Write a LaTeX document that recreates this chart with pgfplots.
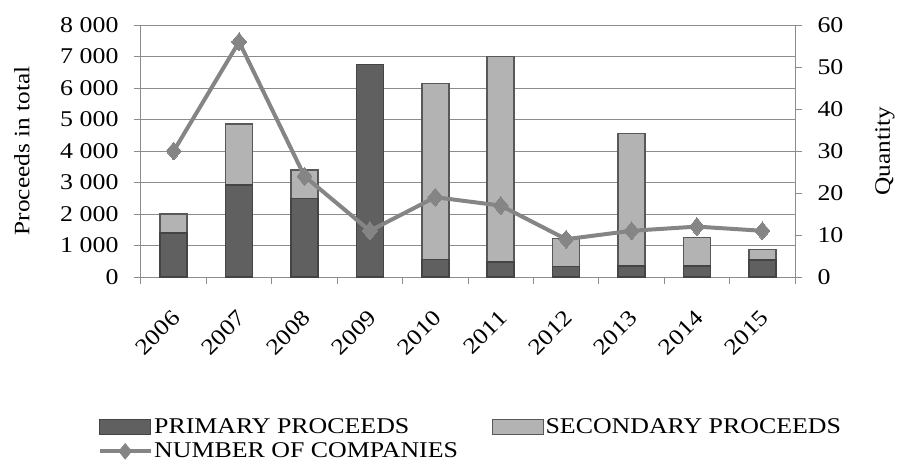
\documentclass[border=0pt]{standalone}
\usepackage{fontspec}
\setmainfont{Liberation Serif}[FakeStretch=1.15]
\usepackage{pgfplots}
\usepackage{pgfplotstable}
\pgfplotsset{compat=1.18}

\definecolor{primaryfill}{HTML}{606060}
\definecolor{primaryedge}{HTML}{444444}
\definecolor{secondfill}{HTML}{B3B3B3}
\definecolor{secondedge}{HTML}{585858}
\definecolor{linegray}{HTML}{858585}
\definecolor{gridgray}{HTML}{8C8C8C}

% proceeds (left axis) and number of companies (right axis)
\pgfplotstableread{
x year primary secondary companies
0 2006 1400 600  30
1 2007 2920 1930 56
2 2008 2500 900  24
3 2009 6750 0    11
4 2010 560  5590 19
5 2011 470  6530 17
6 2012 330  900  9
7 2013 350  4210 11
8 2014 350  910  12
9 2015 540  340  11
}\data

\pgfplotsset{
  base/.style={
    width=654pt, height=252pt, scale only axis,
    xmin=-0.5, xmax=9.5,
    axis line style={gridgray, line width=1pt},
    tick style={gridgray, line width=1pt},
    major tick length=7pt, tick align=outside,
    ticklabel style={font=\fontsize{22.5}{24}\selectfont},
    label style={font=\fontsize{22}{24}\selectfont},
    /pgf/number format/assume math mode=true,
    /pgf/number format/1000 sep={\ },
    yticklabel shift=12pt,
  },
  barleg/.style={legend image code/.code={\draw[##1] (0pt,-7.5pt) rectangle (51pt,7.5pt);}},
  lineleg/.style={legend image code/.code={%
    \draw[linegray, line width=4pt] (0pt,0pt) -- (51pt,0pt);
    \fill[linegray] (25.5pt,-8pt) -- (32pt,0pt) -- (25.5pt,8pt) -- (19pt,0pt) -- cycle;}},
  companies/.style={linegray, line width=4pt, mark=square*, mark size=5.3pt,
    mark options={yscale=1.2, rotate=45, fill=linegray, draw=linegray, line width=0pt}},
}

\begin{document}
\begin{tikzpicture}
\useasboundingbox (-141pt,-187pt) rectangle (757pt,277pt);

\begin{axis}[base,
  ybar stacked, bar width=27pt,
  ymin=0, ymax=8000, ytick={0,1000,...,8000},
  ymajorgrids, grid style={gridgray, line width=1pt},
  axis y line*=left, axis x line*=bottom,
  xtick={0,...,9},
  xticklabels={2006,2007,2008,2009,2010,2011,2012,2013,2014,2015},
  xtick style={draw=none},
  xticklabel style={xshift=-3pt, yshift=-20pt, rotate=45, anchor=north east},
  extra x ticks={-0.5,0.5,...,9.5},
  extra x tick labels={},
  extra x tick style={xtick style={draw=gridgray}},
  ylabel={Proceeds in total},
  ylabel style={at={(axis description cs:-0.182,0.5)}, anchor=center},
  legend columns=2,
  legend cell align=left,
  legend style={draw=none, fill=none,
    at={(axis description cs:0,0)}, anchor=north west,
    xshift=-46.5pt, yshift=-138pt,
    font=\fontsize{22.5}{24}\selectfont,
    /tikz/every even column/.append style={column sep=32pt},
    /tikz/row sep=5pt,
    nodes={inner sep=1.5pt}},
]
\addplot[fill=primaryfill, draw=primaryedge, line width=1.5pt, barleg]
  table[x=x, y=primary] {\data};
\addlegendentry{PRIMARY PROCEEDS}
\addplot[fill=secondfill, draw=secondedge, line width=1.5pt, barleg]
  table[x=x, y=secondary] {\data};
\addlegendentry{SECONDARY PROCEEDS}
\addlegendimage{lineleg}
\addlegendentry{NUMBER OF COMPANIES}
\end{axis}

\begin{axis}[base,
  axis y line*=right, axis x line=none,
  ymin=0, ymax=60, ytick={0,10,...,60},
  ylabel={Quantity},
  ylabel style={at={(axis description cs:1.1376,0.5)}, anchor=center},
]
\addplot[companies] table[x=x, y=companies] {\data};
\end{axis}
\end{tikzpicture}
\end{document}
